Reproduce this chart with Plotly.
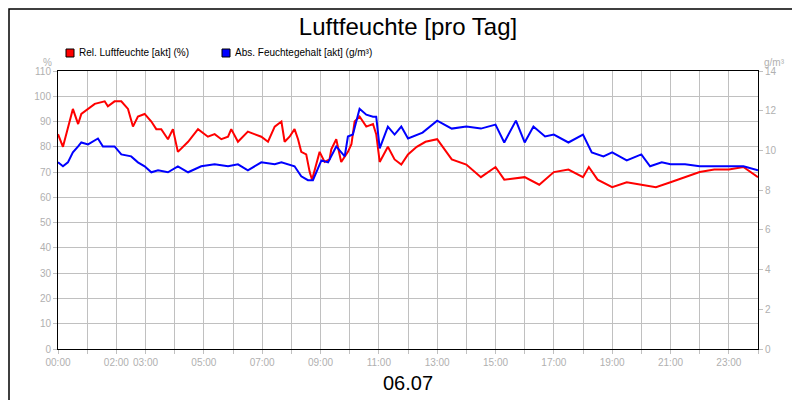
import plotly.graph_objects as go

# relative humidity (%), time in hours
rh_t = [0.0, 0.17, 0.51, 0.69, 0.80, 1.26, 1.60, 1.71, 1.94, 2.17, 2.40, 2.40, 2.57, 2.74, 2.97, 3.20, 3.37,
        3.54, 3.77, 3.94, 4.11, 4.46, 4.80, 5.14, 5.37, 5.60, 5.83, 5.94, 6.17, 6.51, 6.74, 6.97, 7.20, 7.43,
        7.66, 7.77, 7.94, 8.11, 8.23, 8.34, 8.51, 8.63, 8.71, 8.97, 9.14, 9.31, 9.37, 9.54, 9.71, 9.94, 10.06,
        10.17, 10.34, 10.57, 10.80, 10.91, 11.03, 11.31, 11.54, 11.77, 12.0, 12.3, 12.6, 13.0, 13.5, 14.0,
        14.5, 15.0, 15.3, 16.0, 16.5, 17.0, 17.5, 18.0, 18.2, 18.5, 19.0, 19.5, 20.0, 20.5, 21.0, 21.5,
        22.0, 22.5, 23.0, 23.5, 24.0]
rh = [85, 80, 95, 89, 93, 97, 98, 96, 98, 98, 95, 95, 88, 92, 93, 90, 87,
      87, 83, 87, 78, 82, 87, 84, 85, 83, 84, 87, 82, 86, 85, 84, 82, 88,
      90, 82, 84, 87, 83, 78, 77, 70, 67, 78, 74, 75, 79, 83, 74, 78, 81,
      90, 92, 88, 89, 85, 74, 80, 75, 73, 77, 80, 82, 83, 75, 73,
      68, 72, 67, 68, 65, 70, 71, 68, 72, 67, 64, 66, 65, 64, 66, 68,
      70, 71, 71, 72, 68]

# absolute moisture (g/m3)
ah_t = [0.0, 0.17, 0.34, 0.51, 0.69, 0.80, 1.03, 1.37, 1.54, 1.94, 2.17, 2.51, 2.74, 2.97, 3.20, 3.43,
        3.77, 4.11, 4.46, 4.91, 5.37, 5.83, 6.17, 6.51, 6.97, 7.43, 7.66, 7.66, 8.11, 8.34, 8.57, 8.63,
        8.74, 9.03, 9.26, 9.54, 9.83, 9.94, 10.11, 10.34, 10.57, 10.80, 10.91, 11.03, 11.31, 11.54, 11.77,
        12.0, 12.5, 13.0, 13.5, 14.0, 14.5, 15.0, 15.3, 15.7, 16.0, 16.3, 16.7, 17.0, 17.5, 18.0, 18.3,
        18.7, 19.0, 19.5, 20.0, 20.3, 20.7, 21.0, 21.5, 22.0, 22.5, 23.0, 23.5, 24.0]
ah = [9.4, 9.2, 9.4, 9.9, 10.2, 10.4, 10.3, 10.6, 10.2, 10.2, 9.8, 9.7, 9.4, 9.2, 8.9, 9.0,
      8.9, 9.2, 8.9, 9.2, 9.3, 9.2, 9.3, 9.0, 9.4, 9.3, 9.4, 9.4, 9.2, 8.7, 8.5, 8.5,
      8.5, 9.5, 9.4, 10.2, 9.7, 10.7, 10.8, 12.1, 11.8, 11.7, 11.7, 10.1, 11.2, 10.8, 11.2,
      10.6, 10.9, 11.5, 11.1, 11.2, 11.1, 11.3, 10.4, 11.5, 10.4, 11.2, 10.7, 10.8, 10.4, 10.8, 9.9,
      9.7, 9.9, 9.5, 9.8, 9.2, 9.4, 9.3, 9.3, 9.2, 9.2, 9.2, 9.2, 9.0]

tick_vals = [0, 2, 3, 5, 7, 9, 11, 13, 15, 17, 19, 21, 23]
tick_text = ["00:00", "02:00", "03:00", "05:00", "07:00", "09:00", "11:00", "13:00",
             "15:00", "17:00", "19:00", "21:00", "23:00"]

legend_names = ["Rel. Luftfeuchte [akt] (%)", "Abs. Feuchtegehalt [akt] (g/m³)"]
legend_colors = ["#ff0000", "#0000ff"]

fig = go.Figure()
fig.add_trace(go.Scatter(x=rh_t, y=rh, mode="lines", line=dict(color=legend_colors[0], width=2)))
fig.add_trace(go.Scatter(x=ah_t, y=ah, mode="lines", line=dict(color=legend_colors[1], width=2),
                         yaxis="y2"))

W, H, L, R, T, B = 800, 400, 50, 50, 63, 59
pw, ph = W - L - R, H - T - B


def px(x, y):
    return (x - L) / pw, (H - B - y) / ph


grid = "#c0c0c0"
shapes = []
annotations = [
    dict(text="%", xref="paper", yref="paper", x=px(46, 0)[0], y=px(0, 47)[1], xanchor="right",
         showarrow=False, font=dict(size=10, color="#b0b0b0")),
    dict(text="g/m³", xref="paper", yref="paper", x=px(754, 0)[0], y=px(0, 47)[1], xanchor="left",
         showarrow=False, font=dict(size=10, color="#b0b0b0")),
]
# legend drawn manually so it does not push the margins
for i, (name, col) in enumerate(zip(legend_names, legend_colors)):
    sx = 58 + i * 156
    x0, y0 = px(sx, 49)
    x1, y1 = px(sx + 8, 41)
    shapes.append(dict(type="rect", xref="paper", yref="paper", x0=x0, x1=x1, y0=y0, y1=y1,
                       fillcolor=col, line=dict(color="black", width=1)))
    annotations.append(dict(text=name, xref="paper", yref="paper", x=px(sx + 11, 0)[0], y=px(0, 45)[1],
                            xanchor="left", yanchor="middle", showarrow=False,
                            font=dict(size=10, color="black")))
bx0, by0 = px(1, 399)
bx1, by1 = px(798, 1)
shapes.append(dict(type="rect", xref="paper", yref="paper", x0=bx0, x1=bx1, y0=by0, y1=by1,
                   line=dict(color="black", width=1.5)))

fig.update_layout(
    width=W, height=H, showlegend=False,
    margin=dict(l=L, r=R, t=T, b=B, autoexpand=False),
    paper_bgcolor="white", plot_bgcolor="white",
    font=dict(family="Liberation Sans, Arial", size=10, color="#b0b0b0"),
    title=dict(text="Luftfeuchte [pro Tag]", x=0.5, y=0.975, yanchor="top",
               font=dict(size=24, color="black")),
    xaxis=dict(range=[0, 24], tickvals=tick_vals, ticktext=tick_text, showgrid=True, automargin=False,
               gridcolor=grid, ticks="outside", ticklen=4, tickcolor=grid,
               minor=dict(dtick=1, showgrid=True, gridcolor=grid, ticks="outside", ticklen=4, tickcolor=grid),
               showline=True, linecolor="black", mirror=True, zeroline=False,
               title=dict(text="06.07", font=dict(size=20, color="black"), standoff=8)),
    yaxis=dict(range=[0, 110], dtick=10, gridcolor=grid, showline=True, linecolor="black", automargin=False,
               mirror=True, ticks="outside", ticklen=4, tickcolor=grid, zeroline=False),
    yaxis2=dict(range=[0, 14], dtick=2, overlaying="y", side="right", showgrid=False, automargin=False,
                ticks="outside", ticklen=4, tickcolor=grid, zeroline=False),
    annotations=annotations,
    shapes=shapes,
)

fig.write_html("out.html")
